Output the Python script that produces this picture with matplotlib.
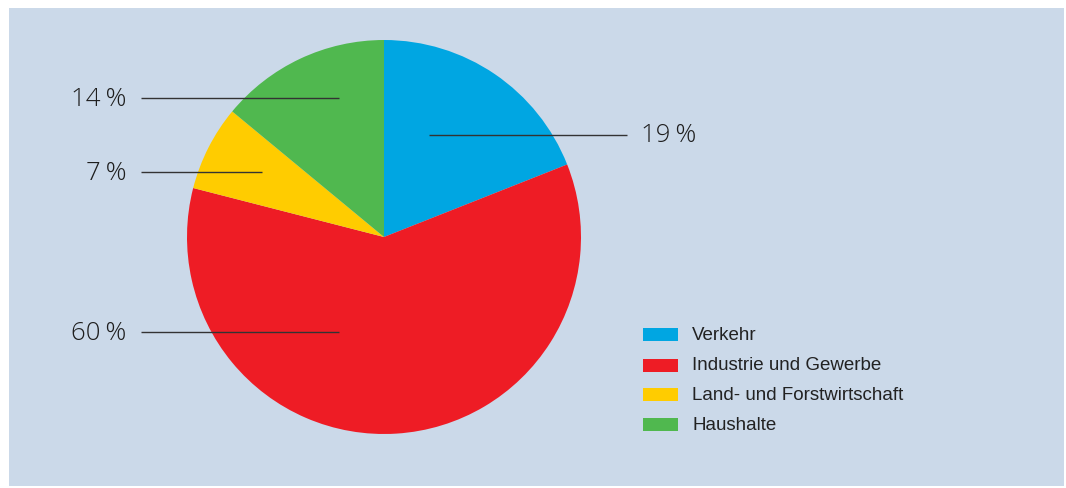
import matplotlib
matplotlib.use("Agg")
import matplotlib.pyplot as plt
from matplotlib.patches import Rectangle

categories = ["Verkehr", "Industrie und Gewerbe", "Land- und Forstwirtschaft", "Haushalte"]
shares = [19, 60, 7, 14]
colors = ["#00a6e2", "#ee1c25", "#ffcc00", "#50b84f"]

W, H = 1066, 488
fig = plt.figure(figsize=(W / 100, H / 100), dpi=100)
fig.patch.set_facecolor("white")

# overlay axes in pixel units (y downward) for background, leaders and legend
ov = fig.add_axes([0, 0, 1, 1])
ov.set_xlim(0, W)
ov.set_ylim(H, 0)
ov.axis("off")
ov.add_patch(Rectangle((9, 8), 1055, 478, facecolor="#cbd9e9", edgecolor="none", zorder=0))

# pie
cx, cy, r = 384, 237, 197
pie_ax = fig.add_axes([(cx - r) / W, (H - cy - r) / H, 2 * r / W, 2 * r / H])
pie_ax.pie(shares, colors=colors, startangle=90, counterclock=False,
           radius=1.0, wedgeprops=dict(linewidth=0))
pie_ax.set_xlim(-1, 1)
pie_ax.set_ylim(-1, 1)
pie_ax.set_aspect("equal")
pie_ax.set_zorder(1)

ov2 = fig.add_axes([0, 0, 1, 1])
ov2.set_xlim(0, W)
ov2.set_ylim(H, 0)
ov2.axis("off")
ov2.set_zorder(2)

# leader lines and percentage labels
label_font = dict(family=["Open Sans", "DejaVu Sans"], fontweight="light", fontsize=18.5, color="#1e1e1e")
leaders = [
    (0, (429, 627), 135, "left"),
    (1, (141, 339), 332, "right"),
    (2, (141, 262), 172, "right"),
    (3, (141, 339), 98, "right"),
]
for idx, (x0, x1), y, side in leaders:
    ov2.plot([x0, x1], [y, y], color="#333333", lw=1.0, solid_capstyle="butt")
    txt = f"{shares[idx]}\u2009%"
    if side == "left":
        ov2.text(x1 + 14, y + 1, txt, ha="left", va="center", **label_font)
    else:
        ov2.text(x0 - 15, y + 1, txt, ha="right", va="center", **label_font)

# legend
leg_y = [334, 365, 394, 424]
for c, lab, y in zip(colors, categories, leg_y):
    ov2.add_patch(Rectangle((643, y - 6), 35, 13, facecolor=c, edgecolor="none"))
    ov2.text(692, y + 1, lab, ha="left", va="center", fontsize=13.5,
             family=["Liberation Sans", "DejaVu Sans"], color="#222222")

fig.savefig("out.png", dpi=100, facecolor=fig.get_facecolor())
